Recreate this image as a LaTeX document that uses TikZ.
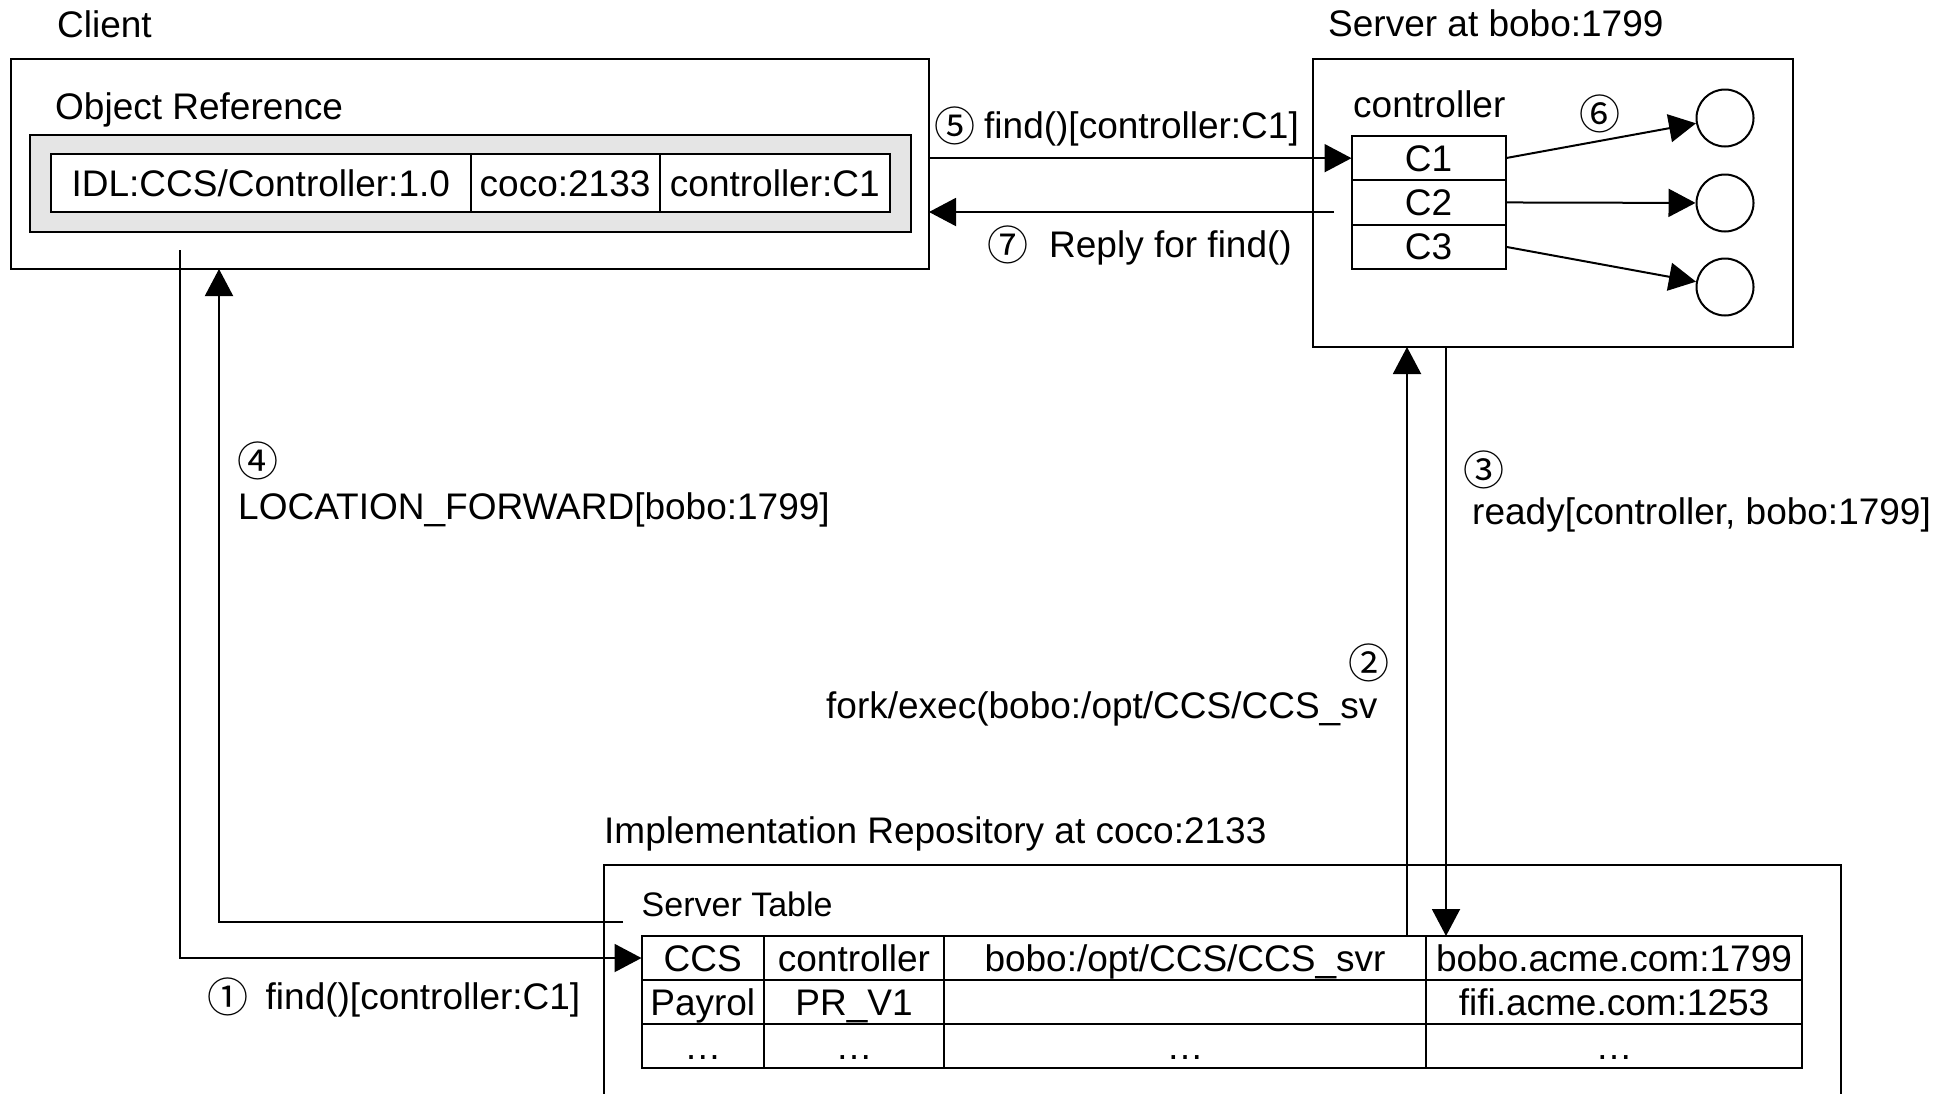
\documentclass[tikz,border=0pt]{standalone}
\usepackage{fontspec}
\setmainfont{Liberation Sans}
\newfontfamily\cjk{Noto Sans CJK JP}
\newcommand{\circnum}[1]{\raisebox{-3pt}{\cjk\fontsize{41}{41}\selectfont #1}}
\usetikzlibrary{arrows.meta}
\begin{document}
\begin{tikzpicture}[x=1pt,y=-1pt,
  fnt/.style={font=\fontsize{37}{40}\selectfont},
  lbl/.style={fnt, inner sep=0pt, anchor=base west},
  num/.style={font=\cjk\fontsize{41}{41}\selectfont, inner sep=0pt},
  box/.style={draw, line width=2.5pt, inner sep=0pt, outer sep=0pt, anchor=north west},
  cell/.style={draw, fill=white, line width=2pt, inner sep=0pt, outer sep=0pt, anchor=north west, fnt, text height=26pt, text depth=0pt},
  conn/.style={line width=2pt},
  arr/.style={conn, -{Triangle[length=27pt,width=28pt]}},
  obj/.style={draw, circle, line width=2pt, minimum size=57pt, inner sep=0pt}
]
\useasboundingbox (0,0) rectangle (1956,1093);
\fill[white] (0,0) rectangle (1956,1093);
\clip (0,0) rectangle (1956,1093);

% Client
\node[lbl] (tclient) at (57,37) {Client};
\node[box, minimum width=918pt, minimum height=210pt] (client) at (11,59) {};
\node[lbl] (tobj) at (55,119) {Object Reference};
\node[box, fill=gray!20, line width=2.7pt, minimum width=881pt, minimum height=97pt] (objref) at (30,135) {};
\node[cell, minimum width=419.6pt, minimum height=58pt] (r1) at (51,154) {IDL:CCS/Controller:1.0};
\node[cell, minimum width=189pt, minimum height=58pt] (r2) at (r1.north east) {coco:2133};
\node[cell, minimum width=230.5pt, minimum height=58pt] (r3) at (r2.north east) {controller:C1};

% Server
\node[lbl] (tserver) at (1328,36) {Server at bobo:1799};
\node[box, minimum width=480pt, minimum height=288pt] (server) at (1313,59) {};
\node[lbl] (tctrl) at (1353,117) {controller};
\node[cell, minimum width=154pt, minimum height=44.3pt] (c1) at (1351.5,136) {C1};
\node[cell, minimum width=154pt, minimum height=44.3pt] (c2) at (c1.south west) {C2};
\node[cell, minimum width=154pt, minimum height=44.3pt] (c3) at (c2.south west) {C3};
\node[obj] (o1) at (1725,118) {};
\node[obj] (o2) at (1725,203) {};
\node[obj] (o3) at (1725,287) {};

% Implementation repository
\node[lbl] (timpl) at (604,843) {Implementation Repository at coco:2133};
\node[box, minimum width=1237pt, minimum height=320pt] (impl) at (604,865) {};
\node[lbl, font=\fontsize{34}{38}\selectfont] (tst) at (641.5,916) {Server Table};
\node[cell, minimum width=122.5pt, minimum height=44pt] (t11) at (641.5,936) {CCS};
\node[cell, minimum width=180pt, minimum height=44pt] (t12) at (t11.north east) {controller};
\node[cell, minimum width=482pt, minimum height=44pt] (t13) at (t12.north east) {bobo:/opt/CCS/CCS\_svr};
\node[cell, minimum width=376pt, minimum height=44pt] (t14) at (t13.north east) {bobo.acme.com:1799};
\node[cell, minimum width=122.5pt, minimum height=44pt] (t21) at (t11.south west) {Payrol};
\node[cell, minimum width=180pt, minimum height=44pt] (t22) at (t21.north east) {PR\_V1};
\node[cell, minimum width=482pt, minimum height=44pt] (t23) at (t22.north east) {};
\node[cell, minimum width=376pt, minimum height=44pt] (t24) at (t23.north east) {fifi.acme.com:1253};
\node[cell, minimum width=122.5pt, minimum height=44pt] (t31) at (t21.south west) {…};
\node[cell, minimum width=180pt, minimum height=44pt] (t32) at (t31.north east) {…};
\node[cell, minimum width=482pt, minimum height=44pt] (t33) at (t32.north east) {…};
\node[cell, minimum width=376pt, minimum height=44pt] (t34) at (t33.north east) {…};

% Labels
\node[lbl] (t5) at (934,138) {\circnum{⑤}\hspace{9pt}find()[controller:C1]};
\node[lbl] (t7) at (987,257) {\circnum{⑦}\hspace{21pt}Reply for find()};
\node[num] (t6) at (1600,114) {⑥};
\node[num] (t4) at (258,461) {④};
\node[lbl] (tloc) at (238,519) {LOCATION\_FORWARD[bobo:1799]};
\node[num] (t3) at (1484,470) {③};
\node[lbl] (tready) at (1472,524) {ready[controller, bobo:1799]};
\node[num] (t2) at (1369,663) {②};
\node[lbl] (tfork) at (826,718) {fork/exec(bobo:/opt/CCS/CCS\_sv};
\node[lbl] (t1) at (207.5,1009) {\circnum{①}\hspace{17pt}find()[controller:C1]};

% Connectors
\coordinate (p1) at (180,250);
\draw[arr] (p1) |- (t11.west);
\coordinate (p2) at (1407,0);
\draw[arr] (p2 |- t13.north) -- (p2 |- server.south);
\coordinate (p3) at (1446,0);
\draw[arr] (p3 |- server.south) -- (p3 |- t14.north);
\coordinate (p4) at (623,922);
\coordinate (p4x) at (219,0);
\draw[arr] (p4) -| (p4x |- client.south);
\draw[arr] (client.east |- c1.west) -- (c1.west);
\coordinate (p7) at (1334,212);
\draw[arr] (p7) -- (p7 -| client.east);
\draw[arr] (c1.east) -- (o1);
\draw[arr] (c2.east) -- (o2);
\draw[arr] (c3.east) -- (o3);
\end{tikzpicture}
\end{document}
